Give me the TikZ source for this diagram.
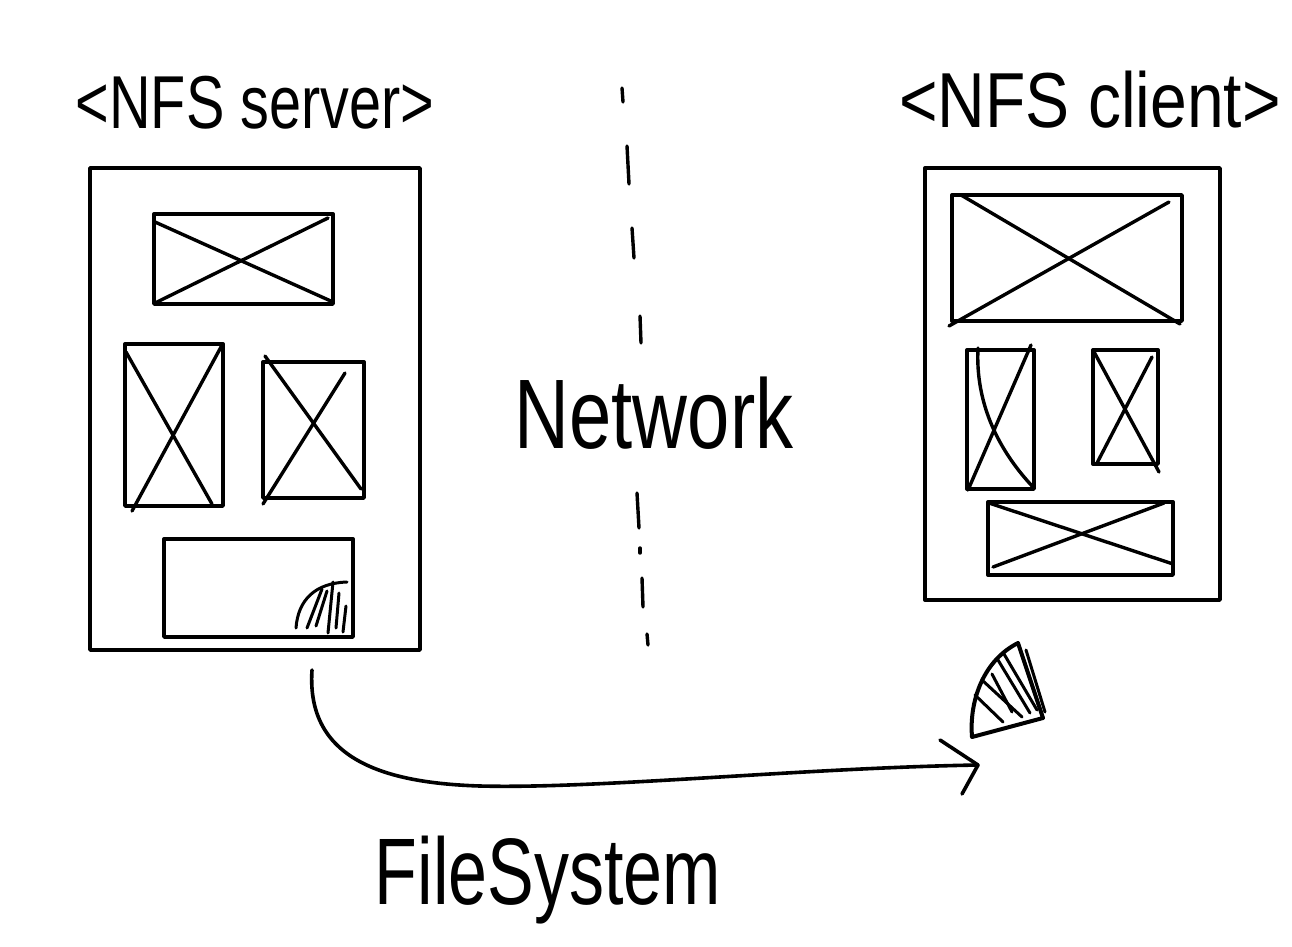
\documentclass[tikz,border=0pt]{standalone}
\usepackage{fontspec}
\setmainfont{Liberation Sans}
\tikzset{
  pen/.style={line width=3.4pt, line cap=round, line join=round, black},
  frame/.style={pen, line width=3.4pt},
  hatch/.style={pen, line width=3pt},
  label/.style={inner sep=0pt, font=\fontsize{60}{70}\selectfont},
  bigtext/.style={inner sep=0pt, font=\fontsize{76}{90}\selectfont},
}
\begin{document}
\begin{tikzpicture}[x=1pt,y=-1pt]
\useasboundingbox[fill=white] (0,0) rectangle (1292,946);

% ---------- labels ----------
\node[label] (lserver) at (255,103) {\scalebox{0.96}[1.25]{<NFS server>}};
\node[label] (lclient) at (1090,100) {\scalebox{1.1}[1.3]{<NFS client>}};
\node[bigtext] (lnet) at (654,413) {\scalebox{1}[1.3]{Network}};
\node[bigtext, font=\fontsize{70}{84}\selectfont] (lfs) at (548,880) {\scalebox{1}[1.35]{FileSystem}};

% ---------- server ----------
\node[frame, draw, minimum width=330pt, minimum height=482pt, inner sep=0pt] (server) at (255,409) {};
% top box
\draw[pen] (154,214) rectangle (333,304);
\draw[pen] (155,222) -- (333,302);
\draw[pen] (155,303) -- (328,218);
% left tall box
\draw[pen] (125,344) rectangle (223,506);
\draw[pen] (126,352) -- (212,504);
\draw[pen] (132,511) -- (221,347);
% right box
\draw[pen] (263,362) rectangle (364,498);
\draw[pen] (265,356) -- (361,489);
\draw[pen] (263,504) -- (345,373);
% bottom box with hatched quarter
\draw[pen] (164,539) rectangle (353,637);
\draw[hatch] (296,628) .. controls (298,600) and (315,583) .. (347,582);
\draw[hatch] (307,628) -- (322,589);
\draw[hatch] (316,626) -- (327,591);
\draw[hatch] (328,633) -- (333,582);
\draw[hatch] (336,628) -- (339,593);
\draw[hatch] (343,632) -- (346,606);

% ---------- client ----------
\node[frame, draw, minimum width=295pt, minimum height=432pt, inner sep=0pt] (client) at (1072.5,384) {};
% top box
\draw[pen] (952,195) rectangle (1182,321);
\draw[pen] (961,195) -- (1180,324);
\draw[pen] (949,326) -- (1169,202);
% left box
\draw[pen] (967,350) rectangle (1034,489);
\draw[pen] (968,490) -- (1031,345);
\draw[pen] (978,348) .. controls (975,405) and (1000,452) .. (1033,487);
% right box
\draw[pen] (1093,350) rectangle (1158,464);
\draw[pen] (1093,350) -- (1159,472);
\draw[pen] (1097,463) -- (1152,357);
% bottom box
\draw[pen] (988,502) rectangle (1173,575);
\draw[pen] (989,503) -- (1173,564);
\draw[pen] (993,567) -- (1164,503);

% ---------- dashed network divider ----------
\draw[pen] (622,88) -- (623,102);
\draw[pen] (627,146) -- (629,184);
\draw[pen] (632,228) -- (634,258);
\draw[pen] (640,316) -- (641,343);
\draw[pen] (637,493) -- (639,528);
\draw[pen] (640,548) -- (640,553);
\draw[pen] (642,578) -- (643,607);
\draw[pen] (647,634) -- (648,645);

% ---------- transferred file system (fan) ----------
\coordinate (fanA) at (972,737);
\coordinate (fanB) at (1018,643);
\coordinate (fanC) at (1043,718);
\draw[pen, line width=4pt] (fanA) .. controls (969,700) and (984,660) .. (fanB) -- (fanC) -- cycle;
\draw[hatch] (1026,650) -- (1045,712);
\draw[hatch] (975,695) -- (1003,722);
\draw[hatch] (982,680) -- (1022,717);
\draw[hatch] (992,674) -- (1012,712);
\draw[hatch] (998,660) -- (1030,713);
\draw[hatch] (1004,654) -- (1037,710);

% ---------- arrow ----------
\coordinate (fsStart) at (312,670);
\coordinate (fsEnd) at (978,765);
\draw[pen, line width=3.6pt] (fsStart) .. controls (306,760) and (385,783) .. (480,786)
      .. controls (600,789) and (800,768) .. (fsEnd);
\draw[pen, line width=3.6pt] (940,740) -- (fsEnd) -- (962,794);
\end{tikzpicture}
\end{document}
